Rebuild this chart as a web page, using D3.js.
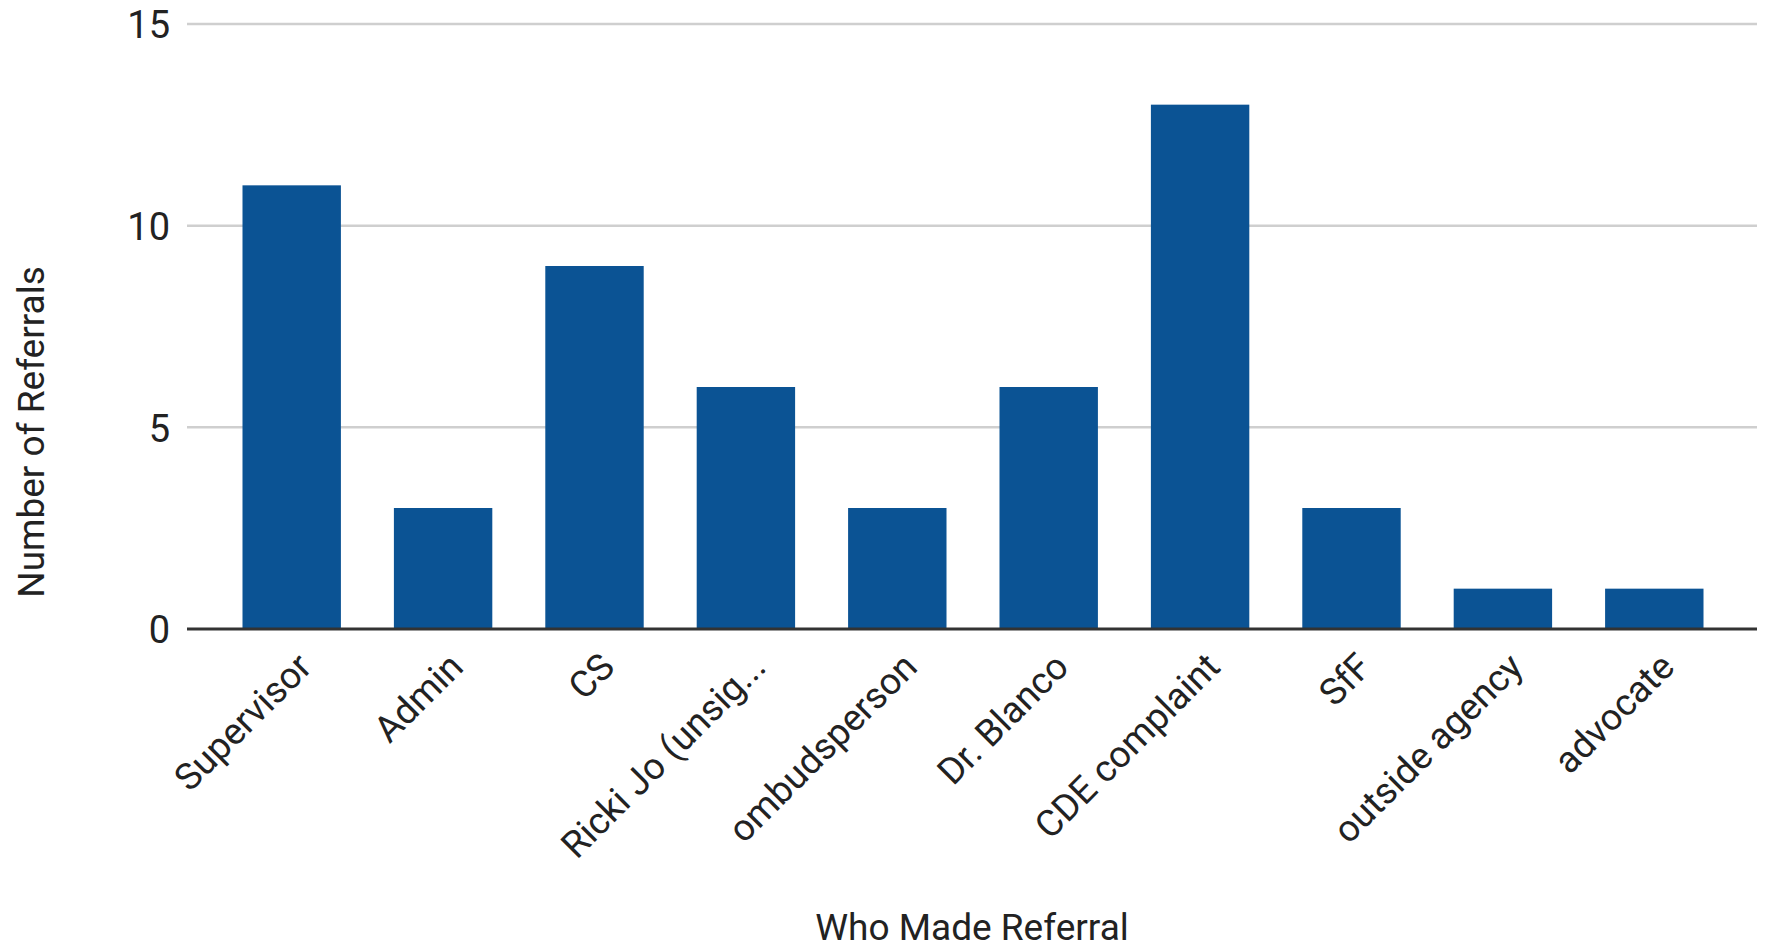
<!DOCTYPE html>
<html>
<head>
<meta charset="utf-8">
<script src="https://cdn.jsdelivr.net/npm/d3@7"></script>
<style>
  html, body { margin: 0; padding: 0; background: #ffffff; }
  svg { display: block; font-family: Roboto, "Noto Sans", Arial, sans-serif; }
</style>
</head>
<body>
<svg id="chart" width="1769" height="951"></svg>
<script>
// Referral counts by source
const categories = ["Supervisor", "Admin", "CS", "Ricki Jo (unsig...", "ombudsperson",
                    "Dr. Blanco", "CDE complaint", "SfF", "outside agency", "advocate"];
const referrals = [11, 3, 9, 6, 3, 6, 13, 3, 1, 1];
const yTicks = [0, 5, 10, 15];
const xTitle = "Who Made Referral";
const yTitle = "Number of Referrals";

const svg = d3.select("#chart");

const plot = { left: 187, right: 1757, top: 24, bottom: 629 };

const x = d3.scaleBand()
  .domain(categories)
  .range([216, 1730])
  .paddingInner(0.35)
  .paddingOuter(0.175);

const y = d3.scaleLinear()
  .domain([0, 15])
  .range([plot.bottom, plot.top]);

// Horizontal gridlines
svg.append("g")
  .selectAll("line")
  .data(yTicks.filter(d => d !== 0))
  .join("line")
  .attr("x1", plot.left)
  .attr("x2", plot.right)
  .attr("y1", d => y(d))
  .attr("y2", d => y(d))
  .attr("stroke", "#cfcfcf")
  .attr("stroke-width", 2.5);

// Y axis tick labels
const yAxis = d3.axisLeft(y).tickValues(yTicks).tickSize(0).tickPadding(0);
svg.append("g")
  .attr("transform", `translate(170,0)`)
  .call(yAxis)
  .call(g => g.select(".domain").remove())
  .call(g => g.selectAll("text")
    .attr("font-family", "Roboto, sans-serif")
    .attr("font-size", 38)
    .attr("fill", "#222")
    .attr("dy", "0.36em"));

// Bars
svg.append("g")
  .selectAll("rect")
  .data(categories.map((c, i) => ({ c, v: referrals[i] })))
  .join("rect")
  .attr("x", d => x(d.c))
  .attr("width", x.bandwidth())
  .attr("y", d => y(d.v))
  .attr("height", d => y(0) - y(d.v))
  .attr("fill", "#0b5394");

// Baseline
svg.append("line")
  .attr("x1", plot.left)
  .attr("x2", plot.right)
  .attr("y1", y(0))
  .attr("y2", y(0))
  .attr("stroke", "#333")
  .attr("stroke-width", 3);

// Slanted category labels
const xAxis = d3.axisBottom(x).tickSize(0).tickPadding(0);
svg.append("g")
  .attr("transform", `translate(0,${y(0)})`)
  .call(xAxis)
  .call(g => g.select(".domain").remove())
  .call(g => g.selectAll("text")
    .attr("font-family", "Roboto, sans-serif")
    .attr("font-size", 37)
    .attr("fill", "#222")
    .attr("text-anchor", "end")
    .attr("y", 0)
    .attr("dy", 0)
    .attr("transform", "translate(22,40) rotate(-45)"));

// Axis titles
svg.append("text")
  .attr("x", 972)
  .attr("y", 940)
  .attr("text-anchor", "middle")
  .attr("font-size", 37)
  .attr("fill", "#222")
  .text(xTitle);

svg.append("text")
  .attr("transform", "translate(44,432) rotate(-90)")
  .attr("text-anchor", "middle")
  .attr("font-size", 37)
  .attr("fill", "#222")
  .text(yTitle);
</script>
</body>
</html>
